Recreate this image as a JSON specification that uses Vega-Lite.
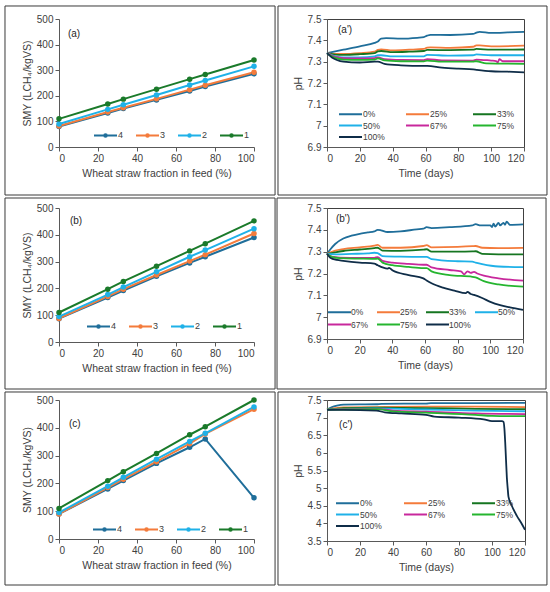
{
  "$schema": "https://vega.github.io/schema/vega-lite/v6.json",
  "padding": {"left": 4, "top": 5, "right": 0, "bottom": 0},
  "background": "white",
  "config": {
    "font": "Liberation Sans",
    "view": {"stroke": null},
    "axis": {"grid": false, "domainColor": "#595959", "tickColor": "#595959", "tickSize": 4, "labelFontSize": 10, "labelColor": "#404040", "titleFontSize": 10.5, "titleFontWeight": "normal", "titleColor": "#404040", "labelPadding": 2},
    "axisX": {"titlePadding": 5},
    "axisY": {"titlePadding": 4},
    "legend": {"orient": "none", "direction": "horizontal", "padding": 0, "labelFontSize": 8.5, "labelColor": "#404040", "symbolStrokeWidth": 2, "symbolSize": 100, "labelOffset": 13, "rowPadding": 0.5, "gridAlign": "all", "symbolType": "M-1,0H3.6"}
  },
  "datasets": {
    "smy": [
      {"p": "a", "c": "4", "x": 0, "v": 80}, {"p": "a", "c": "4", "x": 25, "v": 133}, {"p": "a", "c": "4", "x": 33, "v": 150}, {"p": "a", "c": "4", "x": 50, "v": 184}, {"p": "a", "c": "4", "x": 67, "v": 219}, {"p": "a", "c": "4", "x": 75, "v": 236}, {"p": "a", "c": "4", "x": 100, "v": 286},
      {"p": "a", "c": "3", "x": 0, "v": 82}, {"p": "a", "c": "3", "x": 25, "v": 137}, {"p": "a", "c": "3", "x": 33, "v": 153}, {"p": "a", "c": "3", "x": 50, "v": 188}, {"p": "a", "c": "3", "x": 67, "v": 224}, {"p": "a", "c": "3", "x": 75, "v": 241}, {"p": "a", "c": "3", "x": 100, "v": 292},
      {"p": "a", "c": "2", "x": 0, "v": 90}, {"p": "a", "c": "2", "x": 25, "v": 147}, {"p": "a", "c": "2", "x": 33, "v": 165}, {"p": "a", "c": "2", "x": 50, "v": 203}, {"p": "a", "c": "2", "x": 67, "v": 242}, {"p": "a", "c": "2", "x": 75, "v": 260}, {"p": "a", "c": "2", "x": 100, "v": 315},
      {"p": "a", "c": "1", "x": 0, "v": 110}, {"p": "a", "c": "1", "x": 25, "v": 168}, {"p": "a", "c": "1", "x": 33, "v": 187}, {"p": "a", "c": "1", "x": 50, "v": 226}, {"p": "a", "c": "1", "x": 67, "v": 265}, {"p": "a", "c": "1", "x": 75, "v": 283}, {"p": "a", "c": "1", "x": 100, "v": 340},
      {"p": "b", "c": "4", "x": 0, "v": 87}, {"p": "b", "c": "4", "x": 25, "v": 166}, {"p": "b", "c": "4", "x": 33, "v": 192}, {"p": "b", "c": "4", "x": 50, "v": 245}, {"p": "b", "c": "4", "x": 67, "v": 295}, {"p": "b", "c": "4", "x": 75, "v": 318}, {"p": "b", "c": "4", "x": 100, "v": 390},
      {"p": "b", "c": "3", "x": 0, "v": 88}, {"p": "b", "c": "3", "x": 25, "v": 170}, {"p": "b", "c": "3", "x": 33, "v": 197}, {"p": "b", "c": "3", "x": 50, "v": 250}, {"p": "b", "c": "3", "x": 67, "v": 302}, {"p": "b", "c": "3", "x": 75, "v": 326}, {"p": "b", "c": "3", "x": 100, "v": 405},
      {"p": "b", "c": "2", "x": 0, "v": 95}, {"p": "b", "c": "2", "x": 25, "v": 177}, {"p": "b", "c": "2", "x": 33, "v": 205}, {"p": "b", "c": "2", "x": 50, "v": 262}, {"p": "b", "c": "2", "x": 67, "v": 318}, {"p": "b", "c": "2", "x": 75, "v": 343}, {"p": "b", "c": "2", "x": 100, "v": 423},
      {"p": "b", "c": "1", "x": 0, "v": 110}, {"p": "b", "c": "1", "x": 25, "v": 197}, {"p": "b", "c": "1", "x": 33, "v": 226}, {"p": "b", "c": "1", "x": 50, "v": 283}, {"p": "b", "c": "1", "x": 67, "v": 340}, {"p": "b", "c": "1", "x": 75, "v": 367}, {"p": "b", "c": "1", "x": 100, "v": 452},
      {"p": "c", "c": "4", "x": 0, "v": 90}, {"p": "c", "c": "4", "x": 25, "v": 180}, {"p": "c", "c": "4", "x": 33, "v": 210}, {"p": "c", "c": "4", "x": 50, "v": 272}, {"p": "c", "c": "4", "x": 67, "v": 330}, {"p": "c", "c": "4", "x": 75, "v": 360}, {"p": "c", "c": "4", "x": 100, "v": 148},
      {"p": "c", "c": "3", "x": 0, "v": 90}, {"p": "c", "c": "3", "x": 25, "v": 185}, {"p": "c", "c": "3", "x": 33, "v": 215}, {"p": "c", "c": "3", "x": 50, "v": 278}, {"p": "c", "c": "3", "x": 67, "v": 343}, {"p": "c", "c": "3", "x": 75, "v": 378}, {"p": "c", "c": "3", "x": 100, "v": 467},
      {"p": "c", "c": "2", "x": 0, "v": 95}, {"p": "c", "c": "2", "x": 25, "v": 190}, {"p": "c", "c": "2", "x": 33, "v": 222}, {"p": "c", "c": "2", "x": 50, "v": 287}, {"p": "c", "c": "2", "x": 67, "v": 351}, {"p": "c", "c": "2", "x": 75, "v": 380}, {"p": "c", "c": "2", "x": 100, "v": 475},
      {"p": "c", "c": "1", "x": 0, "v": 110}, {"p": "c", "c": "1", "x": 25, "v": 210}, {"p": "c", "c": "1", "x": 33, "v": 242}, {"p": "c", "c": "1", "x": 50, "v": 308}, {"p": "c", "c": "1", "x": 67, "v": 375}, {"p": "c", "c": "1", "x": 75, "v": 404}, {"p": "c", "c": "1", "x": 100, "v": 500}
    ],
    "ph": [
      {"p": "a", "g": "0%", "t": 0, "v": 7.34}, {"p": "a", "g": "0%", "t": 10, "v": 7.356}, {"p": "a", "g": "0%", "t": 20, "v": 7.372}, {"p": "a", "g": "0%", "t": 29, "v": 7.388}, {"p": "a", "g": "0%", "t": 31, "v": 7.395}, {"p": "a", "g": "0%", "t": 33, "v": 7.408}, {"p": "a", "g": "0%", "t": 36, "v": 7.41}, {"p": "a", "g": "0%", "t": 45, "v": 7.408}, {"p": "a", "g": "0%", "t": 55, "v": 7.412}, {"p": "a", "g": "0%", "t": 59, "v": 7.415}, {"p": "a", "g": "0%", "t": 61, "v": 7.422}, {"p": "a", "g": "0%", "t": 63, "v": 7.426}, {"p": "a", "g": "0%", "t": 75, "v": 7.425}, {"p": "a", "g": "0%", "t": 89, "v": 7.43}, {"p": "a", "g": "0%", "t": 91, "v": 7.436}, {"p": "a", "g": "0%", "t": 93, "v": 7.44}, {"p": "a", "g": "0%", "t": 100, "v": 7.435}, {"p": "a", "g": "0%", "t": 110, "v": 7.437}, {"p": "a", "g": "0%", "t": 120, "v": 7.44},
      {"p": "a", "g": "25%", "t": 0, "v": 7.34}, {"p": "a", "g": "25%", "t": 5, "v": 7.336}, {"p": "a", "g": "25%", "t": 10, "v": 7.336}, {"p": "a", "g": "25%", "t": 20, "v": 7.34}, {"p": "a", "g": "25%", "t": 29, "v": 7.347}, {"p": "a", "g": "25%", "t": 31, "v": 7.355}, {"p": "a", "g": "25%", "t": 33, "v": 7.358}, {"p": "a", "g": "25%", "t": 40, "v": 7.353}, {"p": "a", "g": "25%", "t": 50, "v": 7.356}, {"p": "a", "g": "25%", "t": 59, "v": 7.36}, {"p": "a", "g": "25%", "t": 61, "v": 7.366}, {"p": "a", "g": "25%", "t": 63, "v": 7.367}, {"p": "a", "g": "25%", "t": 75, "v": 7.365}, {"p": "a", "g": "25%", "t": 89, "v": 7.37}, {"p": "a", "g": "25%", "t": 91, "v": 7.376}, {"p": "a", "g": "25%", "t": 93, "v": 7.376}, {"p": "a", "g": "25%", "t": 100, "v": 7.372}, {"p": "a", "g": "25%", "t": 120, "v": 7.375},
      {"p": "a", "g": "33%", "t": 0, "v": 7.34}, {"p": "a", "g": "33%", "t": 5, "v": 7.333}, {"p": "a", "g": "33%", "t": 10, "v": 7.332}, {"p": "a", "g": "33%", "t": 20, "v": 7.335}, {"p": "a", "g": "33%", "t": 29, "v": 7.34}, {"p": "a", "g": "33%", "t": 31, "v": 7.348}, {"p": "a", "g": "33%", "t": 33, "v": 7.35}, {"p": "a", "g": "33%", "t": 40, "v": 7.345}, {"p": "a", "g": "33%", "t": 50, "v": 7.347}, {"p": "a", "g": "33%", "t": 59, "v": 7.35}, {"p": "a", "g": "33%", "t": 61, "v": 7.355}, {"p": "a", "g": "33%", "t": 75, "v": 7.354}, {"p": "a", "g": "33%", "t": 89, "v": 7.356}, {"p": "a", "g": "33%", "t": 91, "v": 7.36}, {"p": "a", "g": "33%", "t": 100, "v": 7.356}, {"p": "a", "g": "33%", "t": 120, "v": 7.357},
      {"p": "a", "g": "50%", "t": 0, "v": 7.34}, {"p": "a", "g": "50%", "t": 5, "v": 7.325}, {"p": "a", "g": "50%", "t": 10, "v": 7.32}, {"p": "a", "g": "50%", "t": 20, "v": 7.32}, {"p": "a", "g": "50%", "t": 29, "v": 7.325}, {"p": "a", "g": "50%", "t": 31, "v": 7.33}, {"p": "a", "g": "50%", "t": 33, "v": 7.33}, {"p": "a", "g": "50%", "t": 40, "v": 7.325}, {"p": "a", "g": "50%", "t": 59, "v": 7.325}, {"p": "a", "g": "50%", "t": 61, "v": 7.332}, {"p": "a", "g": "50%", "t": 75, "v": 7.328}, {"p": "a", "g": "50%", "t": 89, "v": 7.33}, {"p": "a", "g": "50%", "t": 91, "v": 7.334}, {"p": "a", "g": "50%", "t": 100, "v": 7.33}, {"p": "a", "g": "50%", "t": 120, "v": 7.33},
      {"p": "a", "g": "67%", "t": 0, "v": 7.34}, {"p": "a", "g": "67%", "t": 5, "v": 7.322}, {"p": "a", "g": "67%", "t": 10, "v": 7.316}, {"p": "a", "g": "67%", "t": 20, "v": 7.315}, {"p": "a", "g": "67%", "t": 29, "v": 7.317}, {"p": "a", "g": "67%", "t": 31, "v": 7.32}, {"p": "a", "g": "67%", "t": 35, "v": 7.312}, {"p": "a", "g": "67%", "t": 45, "v": 7.308}, {"p": "a", "g": "67%", "t": 59, "v": 7.307}, {"p": "a", "g": "67%", "t": 61, "v": 7.312}, {"p": "a", "g": "67%", "t": 70, "v": 7.306}, {"p": "a", "g": "67%", "t": 89, "v": 7.305}, {"p": "a", "g": "67%", "t": 91, "v": 7.31}, {"p": "a", "g": "67%", "t": 100, "v": 7.305}, {"p": "a", "g": "67%", "t": 103, "v": 7.303}, {"p": "a", "g": "67%", "t": 104, "v": 7.296}, {"p": "a", "g": "67%", "t": 105, "v": 7.312}, {"p": "a", "g": "67%", "t": 107, "v": 7.302}, {"p": "a", "g": "67%", "t": 120, "v": 7.302},
      {"p": "a", "g": "75%", "t": 0, "v": 7.34}, {"p": "a", "g": "75%", "t": 5, "v": 7.318}, {"p": "a", "g": "75%", "t": 10, "v": 7.31}, {"p": "a", "g": "75%", "t": 20, "v": 7.308}, {"p": "a", "g": "75%", "t": 29, "v": 7.31}, {"p": "a", "g": "75%", "t": 31, "v": 7.315}, {"p": "a", "g": "75%", "t": 35, "v": 7.306}, {"p": "a", "g": "75%", "t": 45, "v": 7.302}, {"p": "a", "g": "75%", "t": 59, "v": 7.301}, {"p": "a", "g": "75%", "t": 61, "v": 7.305}, {"p": "a", "g": "75%", "t": 70, "v": 7.3}, {"p": "a", "g": "75%", "t": 89, "v": 7.3}, {"p": "a", "g": "75%", "t": 91, "v": 7.302}, {"p": "a", "g": "75%", "t": 97, "v": 7.292}, {"p": "a", "g": "75%", "t": 120, "v": 7.29},
      {"p": "a", "g": "100%", "t": 0, "v": 7.34}, {"p": "a", "g": "100%", "t": 3, "v": 7.32}, {"p": "a", "g": "100%", "t": 6, "v": 7.308}, {"p": "a", "g": "100%", "t": 10, "v": 7.3}, {"p": "a", "g": "100%", "t": 20, "v": 7.296}, {"p": "a", "g": "100%", "t": 29, "v": 7.3}, {"p": "a", "g": "100%", "t": 31, "v": 7.3}, {"p": "a", "g": "100%", "t": 35, "v": 7.29}, {"p": "a", "g": "100%", "t": 45, "v": 7.283}, {"p": "a", "g": "100%", "t": 59, "v": 7.28}, {"p": "a", "g": "100%", "t": 61, "v": 7.28}, {"p": "a", "g": "100%", "t": 70, "v": 7.272}, {"p": "a", "g": "100%", "t": 80, "v": 7.267}, {"p": "a", "g": "100%", "t": 89, "v": 7.264}, {"p": "a", "g": "100%", "t": 91, "v": 7.262}, {"p": "a", "g": "100%", "t": 100, "v": 7.255}, {"p": "a", "g": "100%", "t": 110, "v": 7.253}, {"p": "a", "g": "100%", "t": 120, "v": 7.25},

      {"p": "b", "g": "0%", "t": 0, "v": 7.29}, {"p": "b", "g": "0%", "t": 2, "v": 7.31}, {"p": "b", "g": "0%", "t": 5, "v": 7.335}, {"p": "b", "g": "0%", "t": 10, "v": 7.36}, {"p": "b", "g": "0%", "t": 15, "v": 7.373}, {"p": "b", "g": "0%", "t": 20, "v": 7.382}, {"p": "b", "g": "0%", "t": 25, "v": 7.388}, {"p": "b", "g": "0%", "t": 29, "v": 7.393}, {"p": "b", "g": "0%", "t": 31, "v": 7.4}, {"p": "b", "g": "0%", "t": 33, "v": 7.398}, {"p": "b", "g": "0%", "t": 37, "v": 7.39}, {"p": "b", "g": "0%", "t": 45, "v": 7.393}, {"p": "b", "g": "0%", "t": 55, "v": 7.402}, {"p": "b", "g": "0%", "t": 59, "v": 7.405}, {"p": "b", "g": "0%", "t": 61, "v": 7.412}, {"p": "b", "g": "0%", "t": 64, "v": 7.408}, {"p": "b", "g": "0%", "t": 75, "v": 7.412}, {"p": "b", "g": "0%", "t": 89, "v": 7.42}, {"p": "b", "g": "0%", "t": 91, "v": 7.426}, {"p": "b", "g": "0%", "t": 94, "v": 7.42}, {"p": "b", "g": "0%", "t": 100, "v": 7.42}, {"p": "b", "g": "0%", "t": 101, "v": 7.413}, {"p": "b", "g": "0%", "t": 102, "v": 7.428}, {"p": "b", "g": "0%", "t": 103, "v": 7.415}, {"p": "b", "g": "0%", "t": 105, "v": 7.432}, {"p": "b", "g": "0%", "t": 106, "v": 7.42}, {"p": "b", "g": "0%", "t": 108, "v": 7.432}, {"p": "b", "g": "0%", "t": 109, "v": 7.423}, {"p": "b", "g": "0%", "t": 110, "v": 7.437}, {"p": "b", "g": "0%", "t": 112, "v": 7.423}, {"p": "b", "g": "0%", "t": 120, "v": 7.425},
      {"p": "b", "g": "25%", "t": 0, "v": 7.29}, {"p": "b", "g": "25%", "t": 5, "v": 7.305}, {"p": "b", "g": "25%", "t": 10, "v": 7.312}, {"p": "b", "g": "25%", "t": 20, "v": 7.32}, {"p": "b", "g": "25%", "t": 29, "v": 7.328}, {"p": "b", "g": "25%", "t": 31, "v": 7.331}, {"p": "b", "g": "25%", "t": 34, "v": 7.318}, {"p": "b", "g": "25%", "t": 45, "v": 7.318}, {"p": "b", "g": "25%", "t": 59, "v": 7.326}, {"p": "b", "g": "25%", "t": 61, "v": 7.33}, {"p": "b", "g": "25%", "t": 64, "v": 7.32}, {"p": "b", "g": "25%", "t": 80, "v": 7.322}, {"p": "b", "g": "25%", "t": 89, "v": 7.325}, {"p": "b", "g": "25%", "t": 91, "v": 7.326}, {"p": "b", "g": "25%", "t": 95, "v": 7.318}, {"p": "b", "g": "25%", "t": 105, "v": 7.316}, {"p": "b", "g": "25%", "t": 120, "v": 7.317},
      {"p": "b", "g": "33%", "t": 0, "v": 7.29}, {"p": "b", "g": "33%", "t": 5, "v": 7.297}, {"p": "b", "g": "33%", "t": 10, "v": 7.303}, {"p": "b", "g": "33%", "t": 20, "v": 7.31}, {"p": "b", "g": "33%", "t": 29, "v": 7.316}, {"p": "b", "g": "33%", "t": 31, "v": 7.318}, {"p": "b", "g": "33%", "t": 34, "v": 7.305}, {"p": "b", "g": "33%", "t": 45, "v": 7.304}, {"p": "b", "g": "33%", "t": 59, "v": 7.309}, {"p": "b", "g": "33%", "t": 61, "v": 7.311}, {"p": "b", "g": "33%", "t": 64, "v": 7.3}, {"p": "b", "g": "33%", "t": 80, "v": 7.3}, {"p": "b", "g": "33%", "t": 89, "v": 7.301}, {"p": "b", "g": "33%", "t": 91, "v": 7.302}, {"p": "b", "g": "33%", "t": 95, "v": 7.29}, {"p": "b", "g": "33%", "t": 105, "v": 7.288}, {"p": "b", "g": "33%", "t": 120, "v": 7.288},
      {"p": "b", "g": "50%", "t": 0, "v": 7.29}, {"p": "b", "g": "50%", "t": 5, "v": 7.288}, {"p": "b", "g": "50%", "t": 15, "v": 7.29}, {"p": "b", "g": "50%", "t": 25, "v": 7.292}, {"p": "b", "g": "50%", "t": 29, "v": 7.295}, {"p": "b", "g": "50%", "t": 31, "v": 7.293}, {"p": "b", "g": "50%", "t": 34, "v": 7.28}, {"p": "b", "g": "50%", "t": 45, "v": 7.277}, {"p": "b", "g": "50%", "t": 59, "v": 7.276}, {"p": "b", "g": "50%", "t": 61, "v": 7.276}, {"p": "b", "g": "50%", "t": 64, "v": 7.266}, {"p": "b", "g": "50%", "t": 80, "v": 7.256}, {"p": "b", "g": "50%", "t": 89, "v": 7.254}, {"p": "b", "g": "50%", "t": 91, "v": 7.25}, {"p": "b", "g": "50%", "t": 95, "v": 7.243}, {"p": "b", "g": "50%", "t": 105, "v": 7.232}, {"p": "b", "g": "50%", "t": 120, "v": 7.229},
      {"p": "b", "g": "67%", "t": 0, "v": 7.29}, {"p": "b", "g": "67%", "t": 3, "v": 7.277}, {"p": "b", "g": "67%", "t": 8, "v": 7.273}, {"p": "b", "g": "67%", "t": 20, "v": 7.272}, {"p": "b", "g": "67%", "t": 29, "v": 7.272}, {"p": "b", "g": "67%", "t": 31, "v": 7.275}, {"p": "b", "g": "67%", "t": 34, "v": 7.258}, {"p": "b", "g": "67%", "t": 40, "v": 7.25}, {"p": "b", "g": "67%", "t": 50, "v": 7.244}, {"p": "b", "g": "67%", "t": 59, "v": 7.24}, {"p": "b", "g": "67%", "t": 61, "v": 7.24}, {"p": "b", "g": "67%", "t": 64, "v": 7.228}, {"p": "b", "g": "67%", "t": 75, "v": 7.216}, {"p": "b", "g": "67%", "t": 82, "v": 7.21}, {"p": "b", "g": "67%", "t": 84, "v": 7.196}, {"p": "b", "g": "67%", "t": 86, "v": 7.21}, {"p": "b", "g": "67%", "t": 88, "v": 7.203}, {"p": "b", "g": "67%", "t": 90, "v": 7.207}, {"p": "b", "g": "67%", "t": 92, "v": 7.2}, {"p": "b", "g": "67%", "t": 96, "v": 7.19}, {"p": "b", "g": "67%", "t": 105, "v": 7.178}, {"p": "b", "g": "67%", "t": 120, "v": 7.167},
      {"p": "b", "g": "75%", "t": 0, "v": 7.29}, {"p": "b", "g": "75%", "t": 3, "v": 7.276}, {"p": "b", "g": "75%", "t": 8, "v": 7.27}, {"p": "b", "g": "75%", "t": 20, "v": 7.268}, {"p": "b", "g": "75%", "t": 29, "v": 7.267}, {"p": "b", "g": "75%", "t": 31, "v": 7.268}, {"p": "b", "g": "75%", "t": 34, "v": 7.25}, {"p": "b", "g": "75%", "t": 40, "v": 7.238}, {"p": "b", "g": "75%", "t": 50, "v": 7.23}, {"p": "b", "g": "75%", "t": 59, "v": 7.225}, {"p": "b", "g": "75%", "t": 61, "v": 7.225}, {"p": "b", "g": "75%", "t": 64, "v": 7.21}, {"p": "b", "g": "75%", "t": 75, "v": 7.193}, {"p": "b", "g": "75%", "t": 89, "v": 7.185}, {"p": "b", "g": "75%", "t": 91, "v": 7.182}, {"p": "b", "g": "75%", "t": 96, "v": 7.165}, {"p": "b", "g": "75%", "t": 105, "v": 7.15}, {"p": "b", "g": "75%", "t": 120, "v": 7.14},
      {"p": "b", "g": "100%", "t": 0, "v": 7.29}, {"p": "b", "g": "100%", "t": 2, "v": 7.272}, {"p": "b", "g": "100%", "t": 6, "v": 7.262}, {"p": "b", "g": "100%", "t": 10, "v": 7.258}, {"p": "b", "g": "100%", "t": 20, "v": 7.25}, {"p": "b", "g": "100%", "t": 29, "v": 7.245}, {"p": "b", "g": "100%", "t": 31, "v": 7.238}, {"p": "b", "g": "100%", "t": 34, "v": 7.228}, {"p": "b", "g": "100%", "t": 37, "v": 7.222}, {"p": "b", "g": "100%", "t": 38, "v": 7.226}, {"p": "b", "g": "100%", "t": 40, "v": 7.215}, {"p": "b", "g": "100%", "t": 50, "v": 7.193}, {"p": "b", "g": "100%", "t": 59, "v": 7.178}, {"p": "b", "g": "100%", "t": 61, "v": 7.168}, {"p": "b", "g": "100%", "t": 64, "v": 7.155}, {"p": "b", "g": "100%", "t": 71, "v": 7.135}, {"p": "b", "g": "100%", "t": 78, "v": 7.122}, {"p": "b", "g": "100%", "t": 85, "v": 7.11}, {"p": "b", "g": "100%", "t": 86, "v": 7.116}, {"p": "b", "g": "100%", "t": 88, "v": 7.106}, {"p": "b", "g": "100%", "t": 90, "v": 7.102}, {"p": "b", "g": "100%", "t": 95, "v": 7.088}, {"p": "b", "g": "100%", "t": 100, "v": 7.07}, {"p": "b", "g": "100%", "t": 106, "v": 7.055}, {"p": "b", "g": "100%", "t": 112, "v": 7.045}, {"p": "b", "g": "100%", "t": 120, "v": 7.033},

      {"p": "c", "g": "0%", "t": 0, "v": 7.23}, {"p": "c", "g": "0%", "t": 3, "v": 7.3}, {"p": "c", "g": "0%", "t": 6, "v": 7.34}, {"p": "c", "g": "0%", "t": 10, "v": 7.37}, {"p": "c", "g": "0%", "t": 30, "v": 7.38}, {"p": "c", "g": "0%", "t": 33, "v": 7.39}, {"p": "c", "g": "0%", "t": 60, "v": 7.4}, {"p": "c", "g": "0%", "t": 63, "v": 7.41}, {"p": "c", "g": "0%", "t": 90, "v": 7.41}, {"p": "c", "g": "0%", "t": 120, "v": 7.42},
      {"p": "c", "g": "25%", "t": 0, "v": 7.23}, {"p": "c", "g": "25%", "t": 5, "v": 7.27}, {"p": "c", "g": "25%", "t": 10, "v": 7.29}, {"p": "c", "g": "25%", "t": 30, "v": 7.3}, {"p": "c", "g": "25%", "t": 60, "v": 7.31}, {"p": "c", "g": "25%", "t": 90, "v": 7.31}, {"p": "c", "g": "25%", "t": 120, "v": 7.3},
      {"p": "c", "g": "33%", "t": 0, "v": 7.23}, {"p": "c", "g": "33%", "t": 5, "v": 7.25}, {"p": "c", "g": "33%", "t": 10, "v": 7.27}, {"p": "c", "g": "33%", "t": 30, "v": 7.28}, {"p": "c", "g": "33%", "t": 60, "v": 7.27}, {"p": "c", "g": "33%", "t": 90, "v": 7.25}, {"p": "c", "g": "33%", "t": 120, "v": 7.24},
      {"p": "c", "g": "50%", "t": 0, "v": 7.23}, {"p": "c", "g": "50%", "t": 10, "v": 7.25}, {"p": "c", "g": "50%", "t": 30, "v": 7.26}, {"p": "c", "g": "50%", "t": 60, "v": 7.23}, {"p": "c", "g": "50%", "t": 90, "v": 7.2}, {"p": "c", "g": "50%", "t": 120, "v": 7.18},
      {"p": "c", "g": "67%", "t": 0, "v": 7.23}, {"p": "c", "g": "67%", "t": 10, "v": 7.24}, {"p": "c", "g": "67%", "t": 30, "v": 7.25}, {"p": "c", "g": "67%", "t": 40, "v": 7.2}, {"p": "c", "g": "67%", "t": 60, "v": 7.17}, {"p": "c", "g": "67%", "t": 90, "v": 7.12}, {"p": "c", "g": "67%", "t": 120, "v": 7.1},
      {"p": "c", "g": "75%", "t": 0, "v": 7.23}, {"p": "c", "g": "75%", "t": 10, "v": 7.23}, {"p": "c", "g": "75%", "t": 30, "v": 7.24}, {"p": "c", "g": "75%", "t": 40, "v": 7.18}, {"p": "c", "g": "75%", "t": 60, "v": 7.14}, {"p": "c", "g": "75%", "t": 90, "v": 7.08}, {"p": "c", "g": "75%", "t": 100, "v": 7.05}, {"p": "c", "g": "75%", "t": 120, "v": 7.04},
      {"p": "c", "g": "100%", "t": 0, "v": 7.22}, {"p": "c", "g": "100%", "t": 10, "v": 7.22}, {"p": "c", "g": "100%", "t": 30, "v": 7.2}, {"p": "c", "g": "100%", "t": 35, "v": 7.15}, {"p": "c", "g": "100%", "t": 45, "v": 7.12}, {"p": "c", "g": "100%", "t": 60, "v": 7.08}, {"p": "c", "g": "100%", "t": 65, "v": 7.03}, {"p": "c", "g": "100%", "t": 80, "v": 7.0}, {"p": "c", "g": "100%", "t": 95, "v": 6.95}, {"p": "c", "g": "100%", "t": 100, "v": 6.9}, {"p": "c", "g": "100%", "t": 106, "v": 6.9}, {"p": "c", "g": "100%", "t": 107, "v": 6.88}, {"p": "c", "g": "100%", "t": 107.5, "v": 6.7}, {"p": "c", "g": "100%", "t": 108, "v": 6.3}, {"p": "c", "g": "100%", "t": 108.5, "v": 5.8}, {"p": "c", "g": "100%", "t": 109, "v": 5.3}, {"p": "c", "g": "100%", "t": 109.5, "v": 5.0}, {"p": "c", "g": "100%", "t": 110, "v": 4.75}, {"p": "c", "g": "100%", "t": 112, "v": 4.5}, {"p": "c", "g": "100%", "t": 115, "v": 4.22}, {"p": "c", "g": "100%", "t": 118, "v": 3.99}, {"p": "c", "g": "100%", "t": 120, "v": 3.82}
    ]
  },
  "spacing": 0,
  "resolve": {"scale": {"color": "independent"}, "legend": {"color": "independent"}},
  "vconcat": [
    {
      "spacing": 0,
      "resolve": {"scale": {"color": "independent"}, "legend": {"color": "independent"}},
      "hconcat": [
        {
          "width": 195, "height": 128,
          "layer": [
            {"data": {"values": [{}]}, "mark": {"type": "rect", "filled": false, "stroke": "#3a3a3a", "strokeWidth": 1},
             "encoding": {
               "x": {"datum": -27.7, "type": "quantitative", "axis": {"values": [0, 20, 40, 60, 80, 100], "title": "Wheat straw fraction in feed (%)"}}, "x2": {"datum": 110.8},
               "y": {"datum": 550.8, "type": "quantitative", "axis": {"values": [0, 100, 200, 300, 400, 500], "title": "SMY (LCH₄/kgVS)"}}, "y2": {"datum": -187.5}}},
            {"data": {"name": "smy"}, "transform": [{"filter": "datum.p == 'a'"}],
             "mark": {"type": "line", "strokeWidth": 2, "point": {"filled": true, "size": 30}},
             "encoding": {
               "x": {"field": "x", "type": "quantitative", "scale": {"domain": [0, 100], "nice": false}, "axis": {"values": [0, 20, 40, 60, 80, 100], "title": "Wheat straw fraction in feed (%)"}},
               "y": {"field": "v", "type": "quantitative", "scale": {"domain": [0, 500], "nice": false}, "axis": {"values": [0, 100, 200, 300, 400, 500], "title": "SMY (LCH₄/kgVS)"}},
               "color": {"field": "c", "type": "nominal", "scale": {"domain": ["4", "3", "2", "1"], "range": ["#1f6e9a", "#f47b3b", "#1fb1e8", "#1a7a2a"]},
                 "legend": {"title": null, "legendX": 34, "legendY": 110, "columns": 4, "columnPadding": 8, "labelFontSize": 9, "labelOffset": 13, "symbolType": "M-1,0H3.6M1.55,0A0.25,0.25,0,1,1,1.05,0A0.25,0.25,0,1,1,1.55,0"}}
             }},
            {"data": {"values": [{}]}, "mark": {"type": "text", "align": "left", "baseline": "middle", "fontSize": 10, "color": "#262626"},
             "encoding": {
               "x": {"datum": 4.6, "type": "quantitative", "axis": {"values": [0, 20, 40, 60, 80, 100], "title": "Wheat straw fraction in feed (%)"}},
               "y": {"datum": 441, "type": "quantitative", "axis": {"values": [0, 100, 200, 300, 400, 500], "title": "SMY (LCH₄/kgVS)"}}, "text": {"value": "(a)"}}}
          ]
        },
        {
          "width": 197, "height": 128,
          "view": {"stroke": "#404040"},
          "layer": [
            {"data": {"values": [{}]}, "mark": {"type": "rect", "filled": false, "stroke": "#3a3a3a", "strokeWidth": 1},
             "encoding": {
               "x": {"datum": -29.85, "type": "quantitative", "axis": {"values": [0, 20, 40, 60, 80, 100, 120], "title": "Time (days)"}}, "x2": {"datum": 134.0},
               "y": {"datum": 7.5609, "type": "quantitative", "axis": {"values": [6.9, 7, 7.1, 7.2, 7.3, 7.4, 7.5], "format": ".1~f", "title": "pH"}}, "y2": {"datum": 6.675}}},
            {"data": {"name": "ph"}, "transform": [{"filter": "datum.p == 'a'"}],
             "mark": {"type": "line", "strokeWidth": 1.8, "interpolate": "monotone"},
             "encoding": {
               "x": {"field": "t", "type": "quantitative", "scale": {"domain": [0, 120], "nice": false}, "axis": {"values": [0, 20, 40, 60, 80, 100, 120], "title": "Time (days)"}},
               "y": {"field": "v", "type": "quantitative", "scale": {"domain": [6.9, 7.5], "nice": false, "zero": false}, "axis": {"values": [6.9, 7, 7.1, 7.2, 7.3, 7.4, 7.5], "format": ".1~f", "title": "pH"}},
               "color": {"field": "g", "type": "nominal", "scale": {"domain": ["0%", "25%", "33%", "50%", "67%", "75%", "100%"], "range": ["#1f6e9a", "#f47b3b", "#157520", "#1fb1e8", "#c8289c", "#25b52f", "#0f2d48"]},
                 "legend": {"title": null, "legendX": 11, "legendY": 89, "columns": 3, "columnPadding": 17}}
             }},
            {"data": {"values": [{}]}, "mark": {"type": "text", "align": "left", "baseline": "middle", "fontSize": 10, "color": "#262626"},
             "encoding": {
               "x": {"datum": 6.7, "type": "quantitative", "axis": {"values": [0, 20, 40, 60, 80, 100, 120], "title": "Time (days)"}},
               "y": {"datum": 7.448, "type": "quantitative", "axis": {"values": [6.9, 7, 7.1, 7.2, 7.3, 7.4, 7.5], "format": ".1~f", "title": "pH"}}, "text": {"value": "(a')"}}}
          ]
        }
      ]
    },
    {
      "spacing": 0,
      "resolve": {"scale": {"color": "independent"}, "legend": {"color": "independent"}},
      "hconcat": [
        {
          "width": 195, "height": 134,
          "layer": [
            {"data": {"values": [{}]}, "mark": {"type": "rect", "filled": false, "stroke": "#3a3a3a", "strokeWidth": 1},
             "encoding": {
               "x": {"datum": -27.7, "type": "quantitative", "axis": {"values": [0, 20, 40, 60, 80, 100], "title": "Wheat straw fraction in feed (%)"}}, "x2": {"datum": 110.8},
               "y": {"datum": 537.3, "type": "quantitative", "axis": {"values": [0, 100, 200, 300, 400, 500], "title": "SMY (LCH₄/kgVS)"}}, "y2": {"datum": -175.4}}},
            {"data": {"name": "smy"}, "transform": [{"filter": "datum.p == 'b'"}],
             "mark": {"type": "line", "strokeWidth": 2, "point": {"filled": true, "size": 30}},
             "encoding": {
               "x": {"field": "x", "type": "quantitative", "scale": {"domain": [0, 100], "nice": false}, "axis": {"values": [0, 20, 40, 60, 80, 100], "title": "Wheat straw fraction in feed (%)"}},
               "y": {"field": "v", "type": "quantitative", "scale": {"domain": [0, 500], "nice": false}, "axis": {"values": [0, 100, 200, 300, 400, 500], "title": "SMY (LCH₄/kgVS)"}},
               "color": {"field": "c", "type": "nominal", "scale": {"domain": ["4", "3", "2", "1"], "range": ["#1f6e9a", "#f47b3b", "#1fb1e8", "#1a7a2a"]},
                 "legend": {"title": null, "legendX": 27, "legendY": 112, "columns": 4, "columnPadding": 8, "labelFontSize": 9, "labelOffset": 13, "symbolType": "M-1,0H3.6M1.55,0A0.25,0.25,0,1,1,1.05,0A0.25,0.25,0,1,1,1.55,0"}}
             }},
            {"data": {"values": [{}]}, "mark": {"type": "text", "align": "left", "baseline": "middle", "fontSize": 10, "color": "#262626"},
             "encoding": {
               "x": {"datum": 5.6, "type": "quantitative", "axis": {"values": [0, 20, 40, 60, 80, 100], "title": "Wheat straw fraction in feed (%)"}},
               "y": {"datum": 451, "type": "quantitative", "axis": {"values": [0, 100, 200, 300, 400, 500], "title": "SMY (LCH₄/kgVS)"}}, "text": {"value": "(b)"}}}
          ]
        },
        {
          "width": 196, "height": 131,
          "view": {"stroke": "#404040"},
          "layer": [
            {"data": {"values": [{}]}, "mark": {"type": "rect", "filled": false, "stroke": "#3a3a3a", "strokeWidth": 1},
             "encoding": {
               "x": {"datum": -30.6, "type": "quantitative", "axis": {"values": [0, 20, 40, 60, 80, 100, 120], "title": "Time (days)"}}, "x2": {"datum": 134.1},
               "y": {"datum": 7.5458, "type": "quantitative", "axis": {"values": [6.9, 7, 7.1, 7.2, 7.3, 7.4, 7.5], "format": ".1~f", "title": "pH"}}, "y2": {"datum": 6.671}}},
            {"data": {"name": "ph"}, "transform": [{"filter": "datum.p == 'b'"}],
             "mark": {"type": "line", "strokeWidth": 1.8, "interpolate": "monotone"},
             "encoding": {
               "x": {"field": "t", "type": "quantitative", "scale": {"domain": [0, 120], "nice": false}, "axis": {"values": [0, 20, 40, 60, 80, 100, 120], "title": "Time (days)"}},
               "y": {"field": "v", "type": "quantitative", "scale": {"domain": [6.9, 7.5], "nice": false, "zero": false}, "axis": {"values": [6.9, 7, 7.1, 7.2, 7.3, 7.4, 7.5], "format": ".1~f", "title": "pH"}},
               "color": {"field": "g", "type": "nominal", "scale": {"domain": ["0%", "25%", "33%", "50%", "67%", "75%", "100%"], "range": ["#1f6e9a", "#f47b3b", "#157520", "#1fb1e8", "#c8289c", "#25b52f", "#0f2d48"]},
                 "legend": {"title": null, "legendX": 0, "legendY": 98, "columns": 4, "columnPadding": 0, "rowPadding": 1.5, "labelOffset": 12}}
             }},
            {"data": {"values": [{}]}, "mark": {"type": "text", "align": "left", "baseline": "middle", "fontSize": 10, "color": "#262626"},
             "encoding": {
               "x": {"datum": 5.5, "type": "quantitative", "axis": {"values": [0, 20, 40, 60, 80, 100, 120], "title": "Time (days)"}},
               "y": {"datum": 7.45, "type": "quantitative", "axis": {"values": [6.9, 7, 7.1, 7.2, 7.3, 7.4, 7.5], "format": ".1~f", "title": "pH"}}, "text": {"value": "(b')"}}}
          ]
        }
      ]
    },
    {
      "spacing": 0,
      "resolve": {"scale": {"color": "independent"}, "legend": {"color": "independent"}},
      "hconcat": [
        {
          "width": 195, "height": 139,
          "layer": [
            {"data": {"values": [{}]}, "mark": {"type": "rect", "filled": false, "stroke": "#3a3a3a", "strokeWidth": 1},
             "encoding": {
               "x": {"datum": -27.7, "type": "quantitative", "axis": {"values": [0, 20, 40, 60, 80, 100], "title": "Wheat straw fraction in feed (%)"}}, "x2": {"datum": 110.8},
               "y": {"datum": 528.8, "type": "quantitative", "axis": {"values": [0, 100, 200, 300, 400, 500], "title": "SMY (LCH₄/kgVS)"}}, "y2": {"datum": -165.5}}},
            {"data": {"name": "smy"}, "transform": [{"filter": "datum.p == 'c'"}],
             "mark": {"type": "line", "strokeWidth": 2, "point": {"filled": true, "size": 30}},
             "encoding": {
               "x": {"field": "x", "type": "quantitative", "scale": {"domain": [0, 100], "nice": false}, "axis": {"values": [0, 20, 40, 60, 80, 100], "title": "Wheat straw fraction in feed (%)"}},
               "y": {"field": "v", "type": "quantitative", "scale": {"domain": [0, 500], "nice": false}, "axis": {"values": [0, 100, 200, 300, 400, 500], "title": "SMY (LCH₄/kgVS)"}},
               "color": {"field": "c", "type": "nominal", "scale": {"domain": ["4", "3", "2", "1"], "range": ["#1f6e9a", "#f47b3b", "#1fb1e8", "#1a7a2a"]},
                 "legend": {"title": null, "legendX": 33, "legendY": 123, "columns": 4, "columnPadding": 8, "labelFontSize": 9, "labelOffset": 13, "symbolType": "M-1,0H3.6M1.55,0A0.25,0.25,0,1,1,1.05,0A0.25,0.25,0,1,1,1.55,0"}}
             }},
            {"data": {"values": [{}]}, "mark": {"type": "text", "align": "left", "baseline": "middle", "fontSize": 10, "color": "#262626"},
             "encoding": {
               "x": {"datum": 5.1, "type": "quantitative", "axis": {"values": [0, 20, 40, 60, 80, 100], "title": "Wheat straw fraction in feed (%)"}},
               "y": {"datum": 413.7, "type": "quantitative", "axis": {"values": [0, 100, 200, 300, 400, 500], "title": "SMY (LCH₄/kgVS)"}}, "text": {"value": "(c)"}}}
          ]
        },
        {
          "width": 198, "height": 141,
          "view": {"stroke": "#404040"},
          "layer": [
            {"data": {"values": [{}]}, "mark": {"type": "rect", "filled": false, "stroke": "#3a3a3a", "strokeWidth": 1},
             "encoding": {
               "x": {"datum": -29.7, "type": "quantitative", "axis": {"values": [0, 20, 40, 60, 80, 100, 120], "title": "Time (days)"}}, "x2": {"datum": 133.3},
               "y": {"datum": 7.727, "type": "quantitative", "axis": {"values": [3.5, 4, 4.5, 5, 5.5, 6, 6.5, 7, 7.5], "format": ".1~f", "title": "pH"}}, "y2": {"datum": 2.252}}},
            {"data": {"name": "ph"}, "transform": [{"filter": "datum.p == 'c'"}],
             "mark": {"type": "line", "strokeWidth": 1.8, "interpolate": "monotone"},
             "encoding": {
               "x": {"field": "t", "type": "quantitative", "scale": {"domain": [0, 120], "nice": false}, "axis": {"values": [0, 20, 40, 60, 80, 100, 120], "title": "Time (days)"}},
               "y": {"field": "v", "type": "quantitative", "scale": {"domain": [3.5, 7.5], "nice": false, "zero": false}, "axis": {"values": [3.5, 4, 4.5, 5, 5.5, 6, 6.5, 7, 7.5], "format": ".1~f", "title": "pH"}},
               "color": {"field": "g", "type": "nominal", "scale": {"domain": ["0%", "25%", "33%", "50%", "67%", "75%", "100%"], "range": ["#1f6e9a", "#f47b3b", "#157520", "#1fb1e8", "#c8289c", "#25b52f", "#0f2d48"]},
                 "legend": {"title": null, "legendX": 8, "legendY": 97, "columns": 3, "columnPadding": 18}}
             }},
            {"data": {"values": [{}]}, "mark": {"type": "text", "align": "left", "baseline": "middle", "fontSize": 10, "color": "#262626"},
             "encoding": {
               "x": {"datum": 7.3, "type": "quantitative", "axis": {"values": [0, 20, 40, 60, 80, 100, 120], "title": "Time (days)"}},
               "y": {"datum": 6.79, "type": "quantitative", "axis": {"values": [3.5, 4, 4.5, 5, 5.5, 6, 6.5, 7, 7.5], "format": ".1~f", "title": "pH"}}, "text": {"value": "(c')"}}}
          ]
        }
      ]
    }
  ]
}
